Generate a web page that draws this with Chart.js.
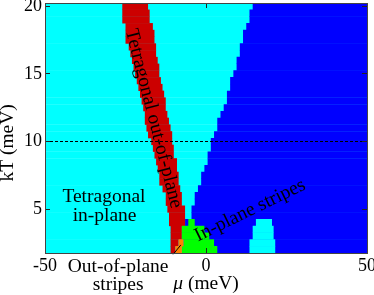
<!DOCTYPE html>
<html><head><meta charset="utf-8">
<script src="https://cdn.jsdelivr.net/npm/chart.js@4/dist/chart.umd.min.js"></script>
<style>html,body{margin:0;padding:0;background:#fff}</style>
</head><body>
<canvas id="c" width="374" height="295"></canvas>
<script>
// ---- data ----
const kT = [20,19.5,19,18.5,18,17.5,17,16.5,16,15.5,15,14.5,14,13.5,13,12.5,12,11.5,11,10.5,10,9.5,9,8.5,8,7.5,7,6.5,6,5.5,5,4.5,4,3.5,3,2.5,2];
// Tetragonal out-of-plane (red band) edges, mu in meV
const redLeft  = [-26,-26,-26,-25,-25,-25,-24,-23.5,-23,-22.5,-22,-21.5,-21,-20.5,-20,-19.5,-19,-19,-18.5,-18,-17,-16.5,-16,-15.5,-15,-14.5,-14.5,-13.5,-12.5,-12.5,-12,-11.5,-11.5,-11,-11,-11,-11];
const redRight = [-18,-17.5,-17.5,-16.5,-16,-16,-15.5,-15.5,-15,-14.5,-14.5,-14,-13.5,-13,-12.5,-12.5,-12,-11.5,-11,-10.5,-10.5,-10,-10,-9,-9,-8.5,-8.5,-8,-7.5,-7.5,-6.5,-6.5,-6.5,-7.5,-7.5,-8.5,-9.5];
// In-plane stripes (blue) left edge; extends to mu max
const blueLeft = [14.5,13.5,13.5,12.5,11.5,11.5,10.5,10.5,9.5,9.5,8.5,7.5,7.5,6.5,6.5,5.5,4.5,3.5,3.5,2.5,1.5,1.5,0.5,0.5,-0.5,-1.5,-1.5,-2.5,-3.5,-3.5,-4.5,-4.5,-6.5,-7.5,-7.5,-7,-7.5];
// green phase near mu = 0
const greenKT    = [4,3.5,3,2.5,2];
const greenLeft  = [-5.5,-7.5,-7.5,-7,-7.5];
const greenRight = [-3.5,-0.5,1,2.5,3.5];
// out-of-plane stripes (orange)
const orangeKT    = [2.5,2];
const orangeLeft  = [-8.5,-9.5];
const orangeRight = [-7,-7.5];
// tetragonal in-plane pocket inside the blue region
const pocketKT    = [4,3.5,3,2.5,2];
const pocketLeft  = [15.5,14.5,14.5,13.5,13.5];
const pocketRight = [20.5,21,21,21.5,21.5];
// axes
const muRange = [-50, 50];
const kTRange = [1.75, 20.25];
const xTicks = [-50, 0, 50];
const yTicks = [5, 10, 15, 20];
const refKT = 10;              // dashed line
const pointerMu = [-10.2, -7.8];
const pointerKT = [1.65, 2.35];

const SERIF = "'Liberation Serif','Times New Roman',serif";

function rows(ks, lo, hi) { return ks.map((k, i) => ({ y: k, x: [lo[i], hi[i]] })); }
function bar(label, data, color) {
  return { type: 'bar', label, data, backgroundColor: color, borderWidth: 0,
           barPercentage: 1.06, categoryPercentage: 1, grouped: false };
}

const datasets = [
  { type: 'line', label: 'kT = 10', data: [{x: muRange[0], y: refKT}, {x: muRange[1], y: refKT}],
    borderColor: '#000', borderWidth: 1, borderDash: [3, 2], pointRadius: 0, fill: false },
  { type: 'line', label: 'pointer', data: pointerMu.map((m, i) => ({x: m, y: pointerKT[i]})),
    borderColor: '#000', borderWidth: 1, pointRadius: 0, fill: false, clip: false },
  bar('Out-of-plane stripes', rows(orangeKT, orangeLeft, orangeRight), '#ff8000'),
  bar('Tetragonal in-plane pocket', rows(pocketKT, pocketLeft, pocketRight), '#00ffff'),
  bar('Green phase', rows(greenKT, greenLeft, greenRight), '#00ff00'),
  bar('Tetragonal out-of-plane', rows(kT, redLeft, redRight), '#cc0000'),
  bar('In-plane stripes', rows(kT, blueLeft, kT.map(() => muRange[1])), '#0000ff'),
  bar('Tetragonal in-plane', rows(kT, kT.map(() => muRange[0]), kT.map(() => muRange[1])), '#00ffff'),
];

function innerGrid() {
  return { drawOnChartArea: false, drawTicks: true, tickLength: -5, color: '#222', lineWidth: 1, z: 1, offset: false };
}
const border = { display: true, color: '#444', width: 1, z: 1 };

const labelPlugin = {
  id: 'labels',
  afterDatasetsDraw(chart) {
    const { ctx, chartArea: a, scales: { x, y } } = chart;
    ctx.save();
    ctx.fillStyle = '#000';
    ctx.font = '19.5px ' + SERIF;
    ctx.textAlign = 'center';
    ctx.textBaseline = 'alphabetic';
    // region labels
    ctx.fillText('Tetragonal', x.getPixelForValue(-31.7), y.getPixelForValue(5.55));
    ctx.fillText('in-plane', x.getPixelForValue(-31.5), y.getPixelForValue(4.15));
    ctx.save();
    ctx.translate(x.getPixelForValue(-16.3), y.getPixelForValue(11.7));
    ctx.rotate(75.6 * Math.PI / 180);
    ctx.textBaseline = 'middle';
    ctx.fillText('Tetragonal out-of-plane', 0, 0);
    ctx.restore();
    ctx.save();
    ctx.translate(x.getPixelForValue(13.7), y.getPixelForValue(4.9));
    ctx.rotate(-26 * Math.PI / 180);
    ctx.textBaseline = 'middle';
    ctx.fillText('In-plane stripes', 0, 0);
    ctx.restore();
    // below-axis label
    ctx.fillText('Out-of-plane', x.getPixelForValue(-27.3), a.bottom + 19);
    ctx.fillText('stripes', x.getPixelForValue(-27.3), a.bottom + 37);
    // x title with italic mu
    const t1 = '\u03bc', t2 = ' (meV)';
    ctx.font = 'italic 19.5px ' + SERIF;
    const w1 = ctx.measureText(t1).width;
    ctx.font = '19.5px ' + SERIF;
    const w2 = ctx.measureText(t2).width;
    const cx = (a.left + a.right) / 2;
    ctx.textAlign = 'left';
    ctx.font = 'italic 19.5px ' + SERIF;
    ctx.fillText(t1, cx - (w1 + w2) / 2, a.bottom + 36);
    ctx.font = '19.5px ' + SERIF;
    ctx.fillText(t2, cx - (w1 + w2) / 2 + w1, a.bottom + 36);
    // y title
    ctx.save();
    ctx.translate(13, y.getPixelForValue(9.9));
    ctx.rotate(-Math.PI / 2);
    ctx.textAlign = 'center';
    ctx.fillText('kT (meV)', 0, 0);
    ctx.restore();
    ctx.restore();
  }
};

new Chart(document.getElementById('c'), {
  type: 'bar',
  data: { datasets },
  plugins: [labelPlugin],
  options: {
    indexAxis: 'y',
    responsive: false,
    animation: false,
    events: [],
    layout: { padding: 0 },
    plugins: { legend: { display: false }, tooltip: { enabled: false } },
    scales: {
      x: {
        type: 'linear', position: 'bottom', min: muRange[0], max: muRange[1], offset: false,
        afterBuildTicks: s => { s.ticks = xTicks.map(v => ({ value: v })); },
        ticks: { color: '#000', font: { family: SERIF, size: 18 }, padding: 7, maxRotation: 0, autoSkip: false },
        grid: innerGrid(), border,
        afterFit: s => { s.height = 42; s.paddingLeft = 0; s.paddingRight = 0; }
      },
      x2: {
        type: 'linear', position: 'top', min: muRange[0], max: muRange[1], offset: false,
        afterBuildTicks: s => { s.ticks = xTicks.map(v => ({ value: v })); },
        ticks: { display: false }, grid: innerGrid(), border,
        afterFit: s => { s.height = 3; s.paddingLeft = 0; s.paddingRight = 0; }
      },
      y: {
        type: 'linear', position: 'left', min: kTRange[0], max: kTRange[1], offset: false,
        afterBuildTicks: s => { s.ticks = yTicks.map(v => ({ value: v })); },
        ticks: { color: '#000', font: { family: SERIF, size: 18 }, padding: 8, autoSkip: false },
        grid: innerGrid(), border,
        afterFit: s => { s.width = 45; s.paddingTop = 0; s.paddingBottom = 0; }
      },
      y2: {
        type: 'linear', position: 'right', min: kTRange[0], max: kTRange[1], offset: false,
        afterBuildTicks: s => { s.ticks = yTicks.map(v => ({ value: v })); },
        ticks: { display: false }, grid: innerGrid(), border,
        afterFit: s => { s.width = 7; s.paddingTop = 0; s.paddingBottom = 0; }
      }
    }
  }
});
</script>
</body></html>
